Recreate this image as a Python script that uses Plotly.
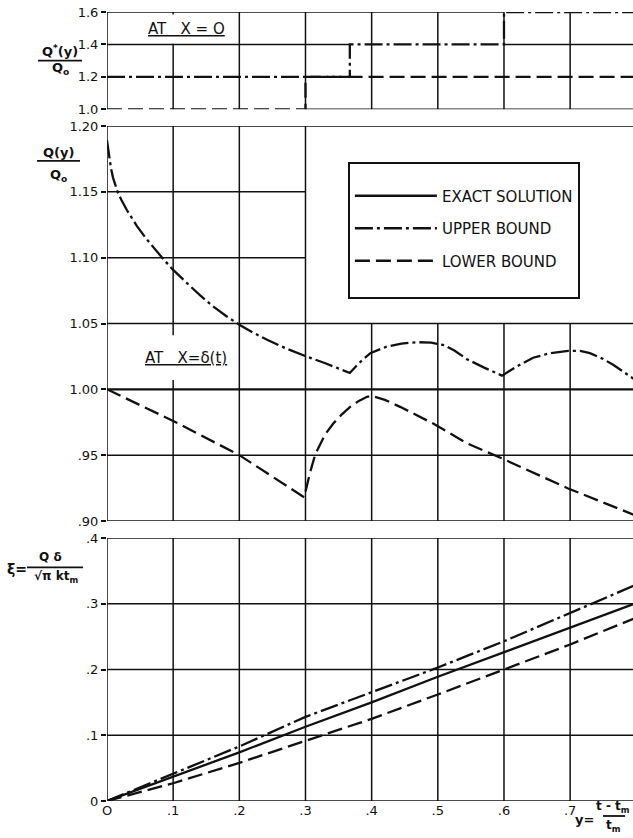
import plotly.graph_objects as go

# ---------------- data ----------------
# Top panel: Q*(y)/Qo at X = 0 (step functions)
top_upper_x = [0.0, 0.367, 0.6, 0.8]
top_upper_y = [1.2, 1.4, 1.6, 1.6]
top_lower_x = [0.0, 0.3, 0.8]
top_lower_y = [1.0, 1.2, 1.2]

# Middle panel: Q(y)/Qo at X = delta(t)
mid_exact_x = [0.0, 0.8]
mid_exact_y = [1.0, 1.0]
mid_upper_x = [0.0, 0.003, 0.006, 0.009, 0.012, 0.016, 0.022, 0.03, 0.045, 0.06, 0.0855,
               0.10, 0.12, 0.14, 0.16, 0.18, 0.20, 0.22, 0.242, 0.27, 0.30, 0.33, 0.367,
               0.38, 0.398, 0.423, 0.445, 0.468, 0.49, 0.51, 0.525, 0.544, 0.57, 0.597,
               0.62, 0.644, 0.67, 0.697, 0.715, 0.73, 0.75, 0.765, 0.78, 0.795, 0.80]
mid_upper_y = [1.189, 1.177, 1.168, 1.161, 1.1555, 1.150, 1.1436, 1.1362, 1.1242, 1.114, 1.0987,
               1.0907, 1.0811, 1.0717, 1.0631, 1.0557, 1.0491, 1.0433, 1.0376, 1.0312, 1.0252,
               1.0198, 1.0124,
               1.0195, 1.0275, 1.0325, 1.0347, 1.0358, 1.0355, 1.0335, 1.0295, 1.0229, 1.0165,
               1.0104,
               1.0175, 1.0240, 1.0275, 1.0292, 1.0292, 1.0275, 1.0230, 1.0186, 1.0135, 1.0083,
               1.0065]
mid_lower_x = [0.0, 0.1, 0.2, 0.298, 0.307, 0.315, 0.33, 0.342, 0.355, 0.3675, 0.38,
               0.393, 0.40, 0.42, 0.443, 0.493, 0.544, 0.597, 0.697, 0.80]
mid_lower_y = [1.0, 0.976, 0.950, 0.918, 0.937, 0.951, 0.966, 0.974, 0.981, 0.9867, 0.991,
               0.9943, 0.995, 0.992, 0.9867, 0.974, 0.959, 0.9475, 0.9247, 0.904]

# Bottom panel: xi = Q delta / (sqrt(pi) k tm)
bot_x = [0.0, 0.1, 0.2, 0.3, 0.4, 0.5, 0.6, 0.7, 0.8]
bot_exact = [0.0, 0.0365, 0.074, 0.113, 0.150, 0.189, 0.226, 0.263, 0.301]
bot_upper = [0.0, 0.041, 0.083, 0.128, 0.165, 0.203, 0.243, 0.286, 0.329]
bot_lower = [0.0, 0.027, 0.058, 0.091, 0.125, 0.162, 0.200, 0.238, 0.279]

x_tickvals = [0, 0.1, 0.2, 0.3, 0.4, 0.5, 0.6, 0.7]
x_ticktext = ["O", ".1", ".2", ".3", ".4", ".5", ".6", ".7"]
bot_tickvals = [0, 0.1, 0.2, 0.3, 0.4]
bot_ticktext = ["0", ".1", ".2", ".3", ".4"]
mid_tickvals = [0.90, 0.95, 1.00, 1.05, 1.10, 1.15, 1.20]
mid_ticktext = [".90", ".95", "1.00", "1.05", "1.10", "1.15", "1.20"]
top_tickvals = [1.0, 1.2, 1.4, 1.6]
top_ticktext = ["1.0", "1.2", "1.4", "1.6"]

series_names = ["EXACT SOLUTION", "UPPER BOUND", "LOWER BOUND"]

# ---------------- styles ----------------
FONT = "DejaVu Sans"
BLACK = "#111111"
LW = 2.3
DASHDOT = "18px,4px,3px,4px"
DASHED = "15px,6px"
GW = 1.5

fig = go.Figure()

# bottom panel traces (carry legend)
fig.add_trace(go.Scatter(x=bot_x, y=bot_exact, mode="lines", name=series_names[0],
                         legendgroup="g1",
                         line=dict(color=BLACK, width=LW), xaxis="x", yaxis="y"))
fig.add_trace(go.Scatter(x=bot_x, y=bot_upper, mode="lines", name=series_names[1],
                         legendgroup="g2",
                         line=dict(color=BLACK, width=LW, dash=DASHDOT), xaxis="x", yaxis="y"))
fig.add_trace(go.Scatter(x=bot_x, y=bot_lower, mode="lines", name=series_names[2] + "<br>&nbsp;",
                         legendgroup="g3",
                         line=dict(color=BLACK, width=LW, dash=DASHED), xaxis="x", yaxis="y"))

# middle panel traces
fig.add_trace(go.Scatter(x=mid_exact_x, y=mid_exact_y, mode="lines", showlegend=False,
                         line=dict(color=BLACK, width=LW), xaxis="x", yaxis="y2"))
fig.add_trace(go.Scatter(x=mid_upper_x, y=mid_upper_y, mode="lines", showlegend=False,
                         line=dict(color=BLACK, width=LW, dash=DASHDOT),
                         xaxis="x", yaxis="y2"))
fig.add_trace(go.Scatter(x=mid_lower_x, y=mid_lower_y, mode="lines", showlegend=False,
                         line=dict(color=BLACK, width=LW, dash=DASHED), xaxis="x", yaxis="y2"))

# top panel traces
fig.add_trace(go.Scatter(x=top_upper_x, y=top_upper_y, mode="lines", showlegend=False,
                         line=dict(color=BLACK, width=LW, dash=DASHDOT, shape="hv"),
                         xaxis="x", yaxis="y3"))
fig.add_trace(go.Scatter(x=top_lower_x, y=top_lower_y, mode="lines", showlegend=False,
                         line=dict(color=BLACK, width=LW, dash=DASHED, shape="hv"),
                         xaxis="x", yaxis="y3"))

# ---------------- grid lines (shapes) ----------------
shapes = []


def hline(yref, y, x0, x1, w=GW):
    shapes.append(dict(type="line", xref="x", yref=yref, x0=x0, x1=x1, y0=y, y1=y,
                       line=dict(color=BLACK, width=w), layer="below"))


def vline(yref, x, y0, y1, w=GW):
    shapes.append(dict(type="line", xref="x", yref=yref, x0=x, x1=x, y0=y0, y1=y1,
                       line=dict(color=BLACK, width=w), layer="below"))


XR = 0.8
# bottom panel
for yv in [0.0, 0.1, 0.2, 0.3, 0.4]:
    hline("y", yv, 0, XR)
for xv in [0.0, 0.1, 0.2, 0.3, 0.4, 0.5, 0.6, 0.7]:
    vline("y", xv, 0, 0.4)

# middle panel
hline("y2", 1.20, 0, XR)
hline("y2", 1.15, 0, 0.3)
hline("y2", 1.10, 0, 0.3)
hline("y2", 1.05, 0, XR)
hline("y2", 0.95, 0, XR)
hline("y2", 0.90, 0, XR)
vline("y2", 0.0, 0.90, 1.20)
vline("y2", 0.1, 0.90, 1.007)
vline("y2", 0.1, 1.041, 1.20)
vline("y2", 0.2, 0.90, 1.20)
vline("y2", 0.3, 0.90, 1.20)
for xv in [0.4, 0.5, 0.6, 0.7]:
    vline("y2", xv, 0.90, 1.05)

# top panel
hline("y3", 1.6, 0, 0.6)
hline("y3", 1.4, 0, 0.367)
hline("y3", 1.4, 0.6, XR)
hline("y3", 1.0, 0.3, XR)
vline("y3", 0.0, 1.0, 1.6)
vline("y3", 0.1, 1.0, 1.404)
vline("y3", 0.1, 1.585, 1.6)
for xv in [0.2, 0.3, 0.4, 0.5, 0.6, 0.7]:
    vline("y3", xv, 1.0, 1.6)


# fraction bars for labels (paper coords)
def pbar(x0, x1, y):
    shapes.append(dict(type="line", xref="paper", yref="paper", x0=x0, x1=x1, y0=y, y1=y,
                       line=dict(color=BLACK, width=1.8)))


pbar(-0.1312, -0.0475, 0.9383)   # Q*(y)/Qo
pbar(-0.1331, -0.0513, 0.8112)   # Q(y)/Qo
pbar(-0.1521, -0.0456, 0.2962)   # xi
pbar(0.943, 0.985, -0.019)       # y = (t-tm)/tm

# ---------------- annotations ----------------
ann = []


def ptext(text, x, y, size=13, bold=True, xanchor="center"):
    t = "<b>%s</b>" % text if bold else text
    ann.append(dict(text=t, x=x, y=y, xref="paper", yref="paper", showarrow=False,
                    xanchor=xanchor, yanchor="middle", font=dict(family=FONT, size=size, color=BLACK)))


ptext("Q<sup>*</sup>(y)", -0.0894, 0.950)
ptext("Q<sub>o</sub>", -0.0875, 0.9278)
ptext("Q(y)", -0.0922, 0.8219)
ptext("Q<sub>o</sub>", -0.0913, 0.7929)
ptext("ξ=", -0.1711, 0.294, size=14)
ptext("Q δ", -0.1065, 0.3093, size=12)
ptext("√π kt<sub>m</sub>", -0.097, 0.2842, size=12)
ptext("y=", 0.9087, -0.0235, size=13)
ptext("t - t<sub>m</sub>", 0.962, -0.0075, size=12)
ptext("t<sub>m</sub>", 0.962, -0.0317, size=12)

ann.append(dict(text='<span style="text-decoration:underline">AT&nbsp;&nbsp;&nbsp;X = O</span>',
                x=0.12, y=1.497, xref="x", yref="y3", showarrow=False,
                font=dict(family=FONT, size=15, color=BLACK)))
ann.append(dict(text='<span style="text-decoration:underline">AT&nbsp;&nbsp;&nbsp;X=δ(t)</span>',
                x=0.12, y=1.0235, xref="x", yref="y2", showarrow=False,
                font=dict(family=FONT, size=15, color=BLACK)))

tickfont = dict(family=FONT, size=13, color=BLACK)
yax_common = dict(showgrid=False, zeroline=False, showline=False, ticks="outside", ticklen=5,
                  tickwidth=1.5, tickcolor=BLACK, tickfont=tickfont, anchor="x", fixedrange=True)

fig.update_layout(
    width=633, height=838,
    margin=dict(l=107, r=0, t=12, b=37),
    paper_bgcolor="white", plot_bgcolor="white",
    font=dict(family=FONT, color=BLACK),
    xaxis=dict(domain=[0, 1], range=[0, 0.795], anchor="y", showgrid=False, zeroline=False,
               showline=False, ticks="", tickvals=x_tickvals, ticktext=x_ticktext,
               tickfont=tickfont, fixedrange=True),
    yaxis=dict(domain=[0, 0.3333], range=[0, 0.4], tickvals=bot_tickvals, ticktext=bot_ticktext,
               **yax_common),
    yaxis2=dict(domain=[0.3549, 0.8555], range=[0.90, 1.20], tickvals=mid_tickvals,
                ticktext=mid_ticktext, **yax_common),
    yaxis3=dict(domain=[0.8767, 1.0], range=[1.0, 1.6], tickvals=top_tickvals,
                ticktext=top_ticktext, **yax_common),
    showlegend=True,
    legend=dict(x=0.458, y=0.81, xanchor="left", yanchor="top", bgcolor="white",
                bordercolor=BLACK, borderwidth=2, font=dict(family=FONT, size=15, color=BLACK),
                itemwidth=82, traceorder="grouped", tracegroupgap=10, valign="top",
                title=dict(text="&nbsp;", font=dict(family=FONT, size=12))),
    shapes=shapes,
    annotations=ann,
)

fig.write_html("out.html",
               config={"displayModeBar": False},
               post_script="document.body.style.margin='0px';document.body.style.overflow='hidden';")
